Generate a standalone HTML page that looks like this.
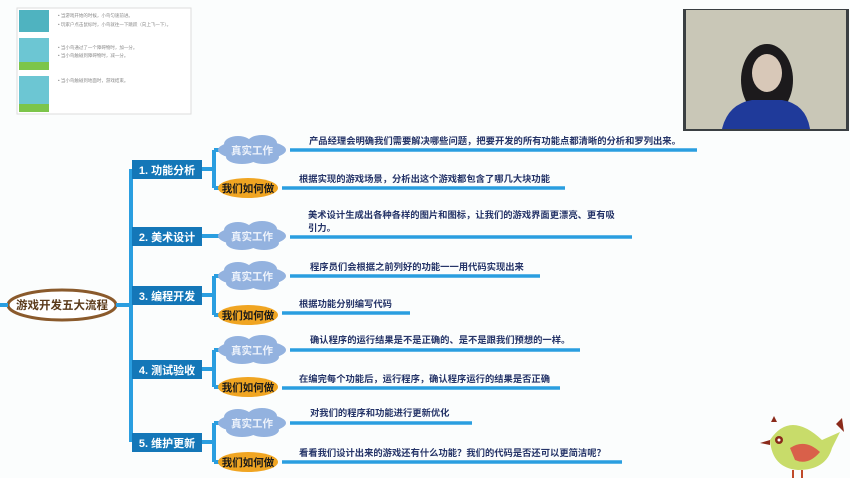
<!DOCTYPE html>
<html><head><meta charset="utf-8"><style>
html,body{margin:0;padding:0;background:#fbfdfd;}
svg{display:block;font-family:"Liberation Sans","Noto Sans CJK SC",sans-serif;}
.t{font-size:9.3px;fill:#253468;font-weight:bold;}
.c{font-size:11px;fill:#fff;font-weight:bold;}
.cl{font-size:10.5px;fill:#eef3fb;font-weight:bold;}
.o{font-size:10.5px;fill:#1a1a1a;font-weight:bold;}
</style></head><body>
<svg width="850" height="478" viewBox="0 0 850 478">
<rect width="850" height="478" fill="#fbfdfd"/>
<rect x="17" y="8" width="174" height="106" fill="#fff" stroke="#ddd"/>
<rect x="19" y="10" width="30" height="22" fill="#4fb3c0"/>
<rect x="19" y="38" width="30" height="32" fill="#6cc6d3"/><rect x="19" y="62" width="30" height="8" fill="#7cc54a"/>
<rect x="19" y="76" width="30" height="36" fill="#6cc6d3"/><rect x="19" y="104" width="30" height="8" fill="#7cc54a"/>
<g fill="#888" font-size="4.5"><text x="58" y="17">•  当游戏开始的时候，小鸟匀速前进。</text><text x="58" y="26">•  玩家户点击鼠标时，小鸟就往一下跳跃（向上飞一下）。</text>
<text x="58" y="49">•  当小鸟通过了一个障碍物时，加一分。</text><text x="58" y="57">•  当小鸟触碰到障碍物时，减一分。</text><text x="58" y="82">•  当小鸟触碰到地面时，游戏结束。</text></g>
<rect x="683" y="9" width="166" height="122" fill="#3a3f42"/>
<rect x="686" y="10" width="160" height="119" fill="#c9c7b7"/>
<ellipse cx="767" cy="80" rx="26" ry="36" fill="#1c1a1c"/>
<ellipse cx="767" cy="73" rx="15" ry="19" fill="#d8c8b8"/>
<path d="M722 129 Q728 104 752 100 L782 100 Q806 104 810 129 Z" fill="#1f3a9a"/>
<ellipse cx="62" cy="305" rx="54" ry="15" fill="#fff" stroke="#8a5a2c" stroke-width="3"/>
<text x="62" y="309" text-anchor="middle" font-size="11.5" font-weight="bold" fill="#5a3a1a">游戏开发五大流程</text>
<g stroke="#2a9ee0" stroke-width="4" fill="none">
<line x1="0" y1="305" x2="8" y2="305"/>
<line x1="116" y1="305" x2="132" y2="305"/>
<line x1="131" y1="169" x2="131" y2="442"/>
<line x1="214" y1="150" x2="214" y2="188"/><line x1="214" y1="276" x2="214" y2="315"/>
<line x1="214" y1="350" x2="214" y2="387"/><line x1="214" y1="423" x2="214" y2="462"/>
<path d="M200 169 H214 M214 150 H222 M214 188 H222 M200 236 H222 M200 295 H214 M214 276 H222 M214 315 H222 M200 369 H214 M214 350 H222 M214 387 H222 M200 442 H214 M214 423 H222 M214 462 H222"/>
</g>
<g stroke="#2a9ee0" stroke-width="3.5">
<line x1="290" y1="150" x2="697" y2="150"/><line x1="282" y1="188" x2="565" y2="188"/>
<line x1="290" y1="237" x2="632" y2="237"/><line x1="290" y1="276" x2="540" y2="276"/>
<line x1="282" y1="313" x2="410" y2="313"/><line x1="290" y1="350" x2="580" y2="350"/>
<line x1="282" y1="388" x2="560" y2="388"/><line x1="290" y1="423" x2="472" y2="423"/>
<line x1="282" y1="462" x2="622" y2="462"/>
</g>
<g fill="#1477b8">
<rect x="132" y="160" width="70" height="19"/><rect x="132" y="227" width="70" height="19"/>
<rect x="132" y="286" width="70" height="19"/><rect x="132" y="360" width="70" height="19"/><rect x="132" y="433" width="70" height="19"/>
</g>
<g class="c" text-anchor="middle">
<text x="167" y="174">1. 功能分析</text><text x="167" y="241">2. 美术设计</text><text x="167" y="300">3. 编程开发</text><text x="167" y="374">4. 测试验收</text><text x="167" y="447">5. 维护更新</text>
</g>
<g fill="#93b2df">
<g transform="translate(252,150)"><ellipse rx="34" ry="10"/><ellipse cx="-14" cy="-6" rx="14" ry="8"/><ellipse cx="10" cy="-7" rx="15" ry="8"/><ellipse cx="-10" cy="7" rx="16" ry="7"/><ellipse cx="12" cy="7" rx="15" ry="7"/></g>
<g transform="translate(252,236)"><ellipse rx="34" ry="10"/><ellipse cx="-14" cy="-6" rx="14" ry="8"/><ellipse cx="10" cy="-7" rx="15" ry="8"/><ellipse cx="-10" cy="7" rx="16" ry="7"/><ellipse cx="12" cy="7" rx="15" ry="7"/></g>
<g transform="translate(252,276)"><ellipse rx="34" ry="10"/><ellipse cx="-14" cy="-6" rx="14" ry="8"/><ellipse cx="10" cy="-7" rx="15" ry="8"/><ellipse cx="-10" cy="7" rx="16" ry="7"/><ellipse cx="12" cy="7" rx="15" ry="7"/></g>
<g transform="translate(252,350)"><ellipse rx="34" ry="10"/><ellipse cx="-14" cy="-6" rx="14" ry="8"/><ellipse cx="10" cy="-7" rx="15" ry="8"/><ellipse cx="-10" cy="7" rx="16" ry="7"/><ellipse cx="12" cy="7" rx="15" ry="7"/></g>
<g transform="translate(252,423)"><ellipse rx="34" ry="10"/><ellipse cx="-14" cy="-6" rx="14" ry="8"/><ellipse cx="10" cy="-7" rx="15" ry="8"/><ellipse cx="-10" cy="7" rx="16" ry="7"/><ellipse cx="12" cy="7" rx="15" ry="7"/></g>
</g>
<g class="cl" text-anchor="middle">
<text x="252" y="154">真实工作</text><text x="252" y="240">真实工作</text><text x="252" y="280">真实工作</text><text x="252" y="354">真实工作</text><text x="252" y="427">真实工作</text>
</g>
<g fill="#f0a522">
<ellipse cx="248" cy="188" rx="30" ry="10"/><ellipse cx="248" cy="315" rx="30" ry="10"/><ellipse cx="248" cy="387" rx="30" ry="10"/><ellipse cx="248" cy="462" rx="30" ry="10"/>
</g>
<g class="o" text-anchor="middle">
<text x="248" y="192">我们如何做</text><text x="248" y="319">我们如何做</text><text x="248" y="391">我们如何做</text><text x="248" y="466">我们如何做</text>
</g>
<g class="t">
<text x="309" y="144">产品经理会明确我们需要解决哪些问题，把要开发的所有功能点都清晰的分析和罗列出来。</text>
<text x="299" y="182">根据实现的游戏场景，分析出这个游戏都包含了哪几大块功能</text>
<text x="308" y="218">美术设计生成出各种各样的图片和图标，让我们的游戏界面更漂亮、更有吸</text>
<text x="308" y="231">引力。</text>
<text x="310" y="270">程序员们会根据之前列好的功能一一用代码实现出来</text>
<text x="299" y="307">根据功能分别编写代码</text>
<text x="310" y="343">确认程序的运行结果是不是正确的、是不是跟我们预想的一样。</text>
<text x="299" y="382">在编完每个功能后，运行程序，确认程序运行的结果是否正确</text>
<text x="310" y="416">对我们的程序和功能进行更新优化</text>
<text x="299" y="456">看看我们设计出来的游戏还有什么功能？我们的代码是否还可以更简洁呢？</text>
</g>
<path d="M770 440 Q790 410 822 440 L840 432 L832 448 Q826 470 798 470 Q772 468 770 440 Z" fill="#c8dc6a"/>
<path d="M790 448 Q805 438 820 452 Q808 466 795 460 Z" fill="#d9604a"/>
<circle cx="779" cy="440" r="4" fill="#8a2a1a"/><circle cx="779" cy="440" r="1.5" fill="#fff"/>
<path d="M770 440 L760 443 L770 445 Z" fill="#8a2a1a"/>
<path d="M771 422 L774 416 L777 422 Z M836 424 L842 418 L844 432 Z" fill="#8a2a1a"/>
<line x1="793" y1="470" x2="793" y2="478" stroke="#c04a2a" stroke-width="2"/><line x1="802" y1="470" x2="802" y2="478" stroke="#c04a2a" stroke-width="2"/>
</svg>
</body></html>
